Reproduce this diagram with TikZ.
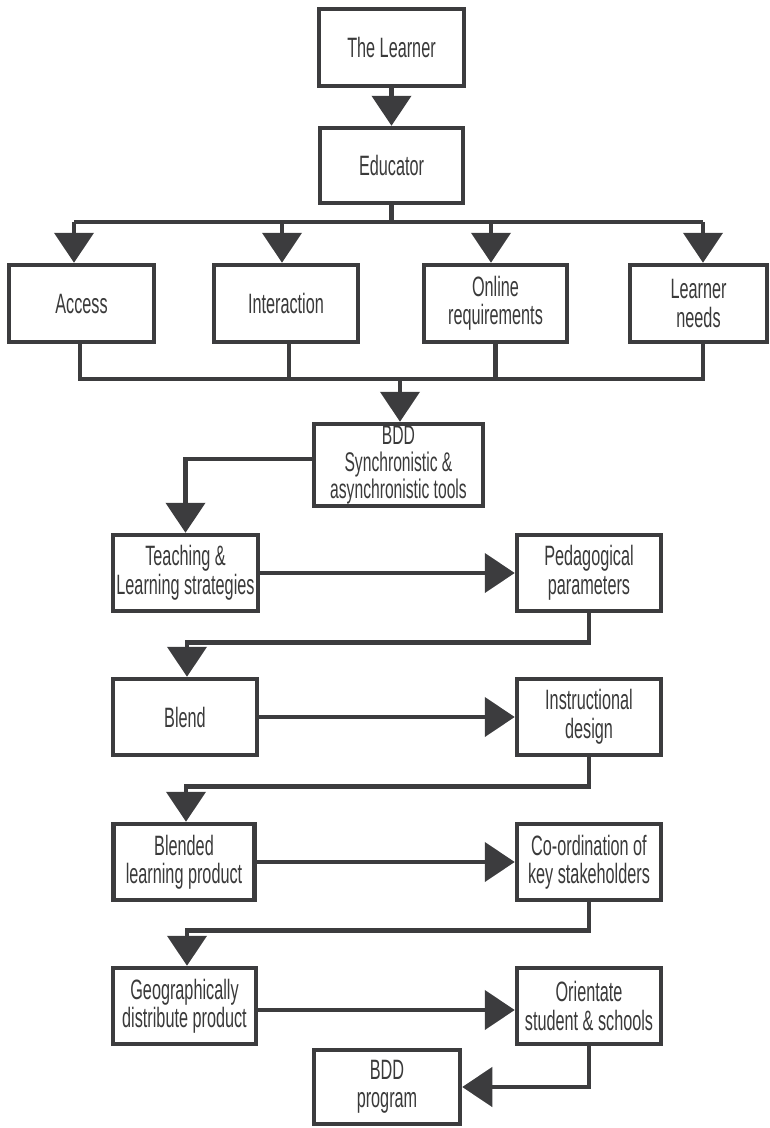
\documentclass[tikz,border=0pt]{standalone}
\usepackage{fontspec}
\setmainfont[FakeStretch=0.58]{Liberation Sans}
\usetikzlibrary{arrows.meta,calc}
\definecolor{ink}{HTML}{3C3C3E}
\definecolor{txt}{HTML}{3A3A3A}
\begin{document}
\begin{tikzpicture}[x=1pt,y=-1pt,
  box/.style={draw=ink,line width=4.5pt,fill=white,inner sep=0pt,align=center,text=txt,
    font=\fontsize{28}{28.5}\selectfont},
  link/.style={draw=ink,line width=4.5pt,line join=miter},
  arr/.style={link,-{Triangle[length=30pt,width=39pt]}}]
\useasboundingbox (0,0) rectangle (770,1128);

\node[box,minimum width=145pt,minimum height=77pt] (learner) at (391.5,47.5) {The Learner};
\node[box,minimum width=143pt,minimum height=75pt] (educator) at (391.5,165.5) {Educator};
\node[box,minimum width=145pt,minimum height=77pt] (access) at (81.5,303.5) {Access};
\node[box,minimum width=144pt,minimum height=77pt] (interaction) at (286,303.5) {Interaction};
\node[box,minimum width=143pt,minimum height=77pt] (online) at (495.5,303.5) {Online\\requirements};
\node[box,minimum width=137pt,minimum height=77pt] (needs) at (698.5,303.5) {Learner\\needs};
\node[box,minimum width=169pt,minimum height=82pt,font=\fontsize{27}{27}\selectfont] (bdd) at (398.5,465) {BDD\\Synchronistic \&\\asynchronistic tools};
\node[box,minimum width=145pt,minimum height=76pt] (teach) at (185.5,573) {Teaching \&\\Learning strategies};
\node[box,minimum width=144pt,minimum height=76pt] (ped) at (589,573) {Pedagogical\\parameters};
\node[box,minimum width=144pt,minimum height=76pt] (blend) at (185,717) {Blend};
\node[box,minimum width=144pt,minimum height=76pt] (instr) at (589,717) {Instructional\\design};
\node[box,minimum width=141pt,minimum height=76pt] (blended) at (184,862) {Blended\\learning product};
\node[box,minimum width=144pt,minimum height=76pt] (coord) at (589,862) {Co-ordination of\\key stakeholders};
\node[box,minimum width=143pt,minimum height=76pt] (geo) at (184.5,1006) {Geographically\\distribute product};
\node[box,minimum width=144pt,minimum height=76pt] (orient) at (589,1006) {Orientate\\student \& schools};
\node[box,minimum width=146pt,minimum height=74pt] (prog) at (387,1087) {BDD\\program};

% top
\draw[arr] (learner) -- (educator);
\coordinate (bus1) at (0,222);
\coordinate (bus2) at (0,379);
\coordinate (aIn) at ([xshift=-7.5pt]access.north);
\coordinate (iIn) at ([xshift=-4pt]interaction.north);
\coordinate (oIn) at ([xshift=-4.5pt]online.north);
\coordinate (nIn) at ([xshift=4.5pt]needs.north);
\draw[link] (educator.south) -- (educator.south |- bus1);
\draw[link] (aIn |- bus1) -- (nIn |- bus1);
\draw[arr] (aIn |- bus1) -- (aIn);
\draw[arr] (iIn |- bus1) -- (iIn);
\draw[arr] (oIn |- bus1) -- (oIn);
\draw[arr] (nIn |- bus1) -- (nIn);

% bottom bus
\coordinate (aOut) at ([xshift=-1.5pt]access.south);
\coordinate (iOut) at ([xshift=3pt]interaction.south);
\coordinate (oOut) at (online.south);
\coordinate (nOut) at ([xshift=4.5pt]needs.south);
\draw[link] (aOut) -- (aOut |- bus2) -- (nOut |- bus2) -- (nOut);
\draw[link] (iOut) -- (iOut |- bus2);
\draw[link] (oOut) -- (oOut |- bus2);
\coordinate (bIn) at ([xshift=1.5pt]bdd.north);
\draw[arr] (bIn |- bus2) -- (bIn);

% chain
\draw[arr] ([yshift=6pt]bdd.west) -| (teach.north);
\draw[arr] (teach.east) -- (ped.west);
\draw[arr] (ped.south) -- ++(0,29) -| ([xshift=2pt]blend.north);
\draw[arr] (blend.east) -- (instr.west);
\draw[arr] (instr.south) -- ++(0,29) -| ([xshift=2pt]blended.north);
\draw[arr] (blended.east) -- (coord.west);
\draw[arr] (coord.south) -- ++(0,28) -| ([xshift=2.5pt]geo.north);
\draw[arr] ([yshift=-4pt]geo.east) -- ([yshift=-4pt]orient.west);
\draw[arr] (orient.south) |- (prog.east);
\end{tikzpicture}
\end{document}
